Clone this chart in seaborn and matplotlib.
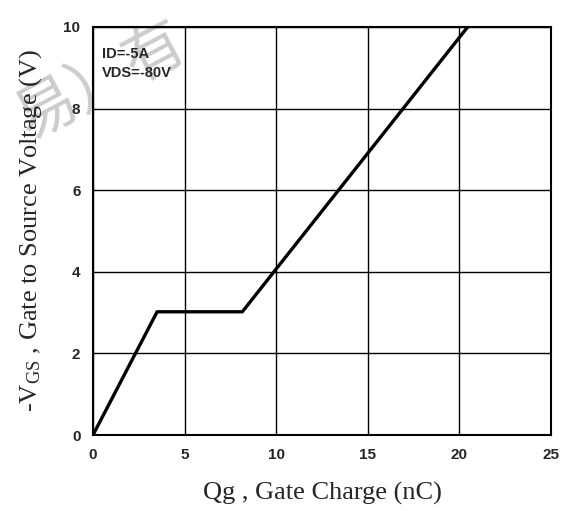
import matplotlib
matplotlib.use("Agg")
import matplotlib.pyplot as plt
import seaborn as sns
import pandas as pd

# gate charge curve
qg = [0.0, 3.5, 8.15, 20.45]
vgs = [0.0, 3.02, 3.02, 10.0]
x_ticks = [0, 5, 10, 15, 20, 25]
y_ticks = [0, 2, 4, 6, 8, 10]


def main():
    sns.set_style("white")
    plt.rcParams['font.family'] = ['Liberation Sans Narrow', 'Liberation Sans', 'DejaVu Sans']
    plt.rcParams['mathtext.fontset'] = 'custom'
    plt.rcParams['mathtext.rm'] = 'Liberation Serif'
    plt.rcParams['mathtext.it'] = 'Liberation Serif'

    df = pd.DataFrame({'Qg': qg, 'VGS': vgs})

    fig = plt.figure(figsize=(5.71, 5.11), dpi=100)
    ax = fig.add_axes([93 / 571, 1 - 435 / 511, 458 / 571, 408 / 511])
    ax.patch.set_alpha(0)

    sns.lineplot(data=df, x='Qg', y='VGS', ax=ax, color='black', linewidth=2.4,
                 sort=False, estimator=None)

    ax.set_xlim(0, 25)
    ax.set_ylim(0, 10)
    ax.set_xticks(x_ticks)
    ax.set_yticks(y_ticks)
    ax.set_xticklabels([str(t) for t in x_ticks], fontsize=11, fontweight='bold')
    ax.set_yticklabels([str(t) for t in y_ticks], fontsize=11, fontweight='bold')
    ax.tick_params(axis='both', length=0, pad=9)
    ax.grid(True, color='black', linewidth=1.0)
    for s in ax.spines.values():
        s.set_color('black')
        s.set_linewidth(1.5)

    ax.set_xlabel('Qg , Gate Charge (nC)', fontsize=19, family='Liberation Serif', labelpad=15)
    ax.set_ylabel(r'-V$_{\mathrm{GS}}$ , Gate to Source Voltage (V)', fontsize=19,
                  family='Liberation Serif', labelpad=14)

    ax.text(0.5, 9.1, 'ID=-5A\nVDS=-80V', fontsize=10.5, fontweight='bold',
            va='center', ha='left', linespacing=1.5)

    # faint watermark behind the chart
    fig.text(0.01, 0.73, '易）有', fontsize=44, color='#cccccc', rotation=28,
             family=['Noto Sans CJK SC', 'DejaVu Sans'], zorder=-1)

    plt.savefig('out.png', dpi=100)


if __name__ == "__main__":
    main()
